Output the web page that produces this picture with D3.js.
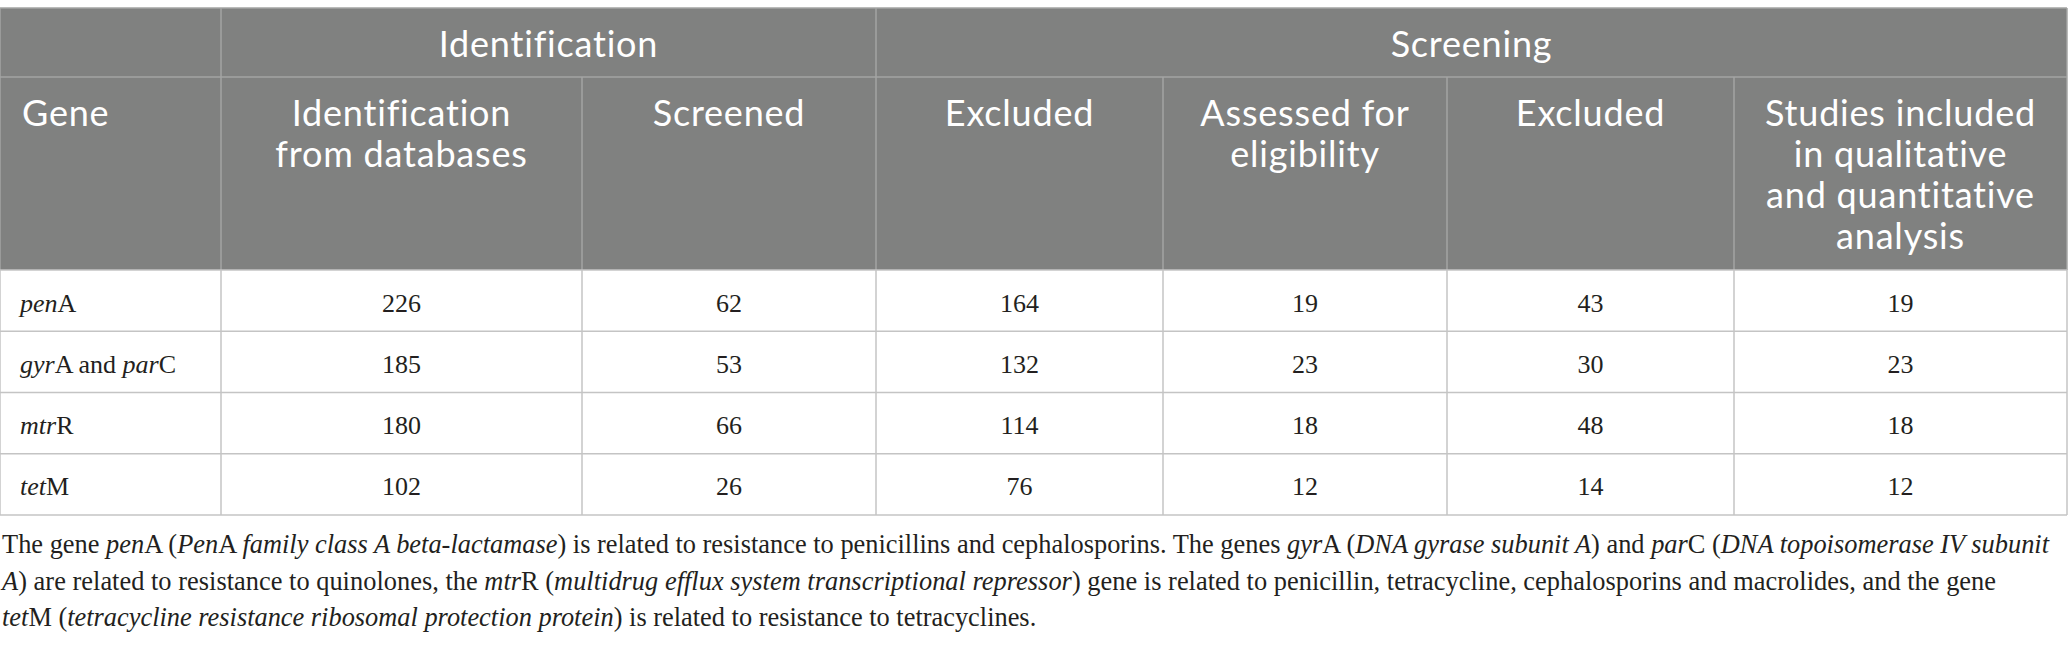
<!DOCTYPE html>
<html>
<head>
<meta charset="utf-8">
<script src="https://cdn.jsdelivr.net/npm/d3@7"></script>
<style>
  body { margin: 0; background: #fff; }
  .head { font-family: "Lato", sans-serif; fill: #fff; letter-spacing: 0.8px; }
  .cell { font-family: "Liberation Serif", serif; fill: #231f20; }
  .note { font-family: "Liberation Serif", serif; fill: #231f20; }
</style>
</head>
<body>
<div id="TableChart"></div>
<script>
// table values
const genes = [
  [["pen", true], ["A", false]],
  [["gyr", true], ["A and ", false], ["par", true], ["C", false]],
  [["mtr", true], ["R", false]],
  [["tet", true], ["M", false]]
];
const identifiedDb = [226, 185, 180, 102];
const screened = [62, 53, 66, 26];
const excluded1 = [164, 132, 114, 76];
const assessed = [19, 23, 18, 12];
const excluded2 = [43, 30, 48, 14];
const included = [19, 23, 18, 12];

const groupLabels = ["Identification", "Screening"];
const groupSpans = [[1, 3], [3, 7]]; // column index range per group
const columnLabels = [
  ["Gene"],
  ["Identification", "from databases"],
  ["Screened"],
  ["Excluded"],
  ["Assessed for", "eligibility"],
  ["Excluded"],
  ["Studies included", "in qualitative", "and quantitative", "analysis"]
];
const noteLines = [
  [["The gene ", false], ["pen", true], ["A (", false], ["Pen", true], ["A ", false], ["family class A beta-lactamase", true], [") is related to resistance to penicillins and cephalosporins. The genes ", false], ["gyr", true], ["A (", false], ["DNA gyrase subunit A", true], [") and ", false], ["par", true], ["C (", false], ["DNA topoisomerase IV subunit", true]],
  [["A", true], [") are related to resistance to quinolones, the ", false], ["mtr", true], ["R (", false], ["multidrug efflux system transcriptional repressor", true], [") gene is related to penicillin, tetracycline, cephalosporins and macrolides, and the gene", false]],
  [["tet", true], ["M (", false], ["tetracycline resistance ribosomal protection protein", true], [") is related to resistance to tetracyclines.", false]]
];

const width = 2068, height = 647;
const colEdges = [0, 221, 582, 876, 1163, 1447, 1734, 2067];
const tableTop = 8, head1 = 77, head2 = 270, tableBottom = 515;

const seriesCols = [identifiedDb, screened, excluded1, assessed, excluded2, included];

const svg = d3.select("#TableChart")
  .append("svg")
  .attr("width", width)
  .attr("height", height);

// x positions per column
const xLeft = d3.scaleOrdinal().domain(d3.range(7)).range(colEdges.slice(0, 7));
const xRight = d3.scaleOrdinal().domain(d3.range(7)).range(colEdges.slice(1));
const xMid = i => (xLeft(i) + xRight(i)) / 2;

// rows
const yRow = d3.scaleBand()
  .domain(d3.range(genes.length))
  .range([head2, tableBottom])
  .padding(0);

// header background
svg.append("rect")
  .attr("x", colEdges[0]).attr("y", tableTop)
  .attr("width", colEdges[7] - colEdges[0]).attr("height", head2 - tableTop)
  .style("fill", "#808180");

// header lines
const headLine = "#a3a4a3";
svg.append("line")
  .attr("x1", 0).attr("x2", colEdges[7]).attr("y1", tableTop).attr("y2", tableTop)
  .style("stroke", headLine).style("stroke-width", 1.5);
svg.append("line")
  .attr("x1", 0).attr("x2", colEdges[7]).attr("y1", head1).attr("y2", head1)
  .style("stroke", headLine).style("stroke-width", 1.5);
svg.selectAll(".vHead")
  .data(d3.range(8))
  .join("line")
    .attr("x1", i => colEdges[i]).attr("x2", i => colEdges[i])
    .attr("y1", i => (i === 0 || i === 1 || i === 3 || i === 7) ? tableTop : head1)
    .attr("y2", head2)
    .style("stroke", headLine).style("stroke-width", 1.5);

// body lines
const bodyLine = "#c4c4c4";
svg.selectAll(".hBody")
  .data(d3.range(genes.length + 1))
  .join("line")
    .attr("x1", 0).attr("x2", colEdges[7])
    .attr("y1", i => i < genes.length ? yRow(i) : tableBottom)
    .attr("y2", i => i < genes.length ? yRow(i) : tableBottom)
    .style("stroke", bodyLine).style("stroke-width", 1.5);
svg.selectAll(".vBody")
  .data(colEdges)
  .join("line")
    .attr("x1", d => d).attr("x2", d => d)
    .attr("y1", head2).attr("y2", tableBottom)
    .style("stroke", bodyLine).style("stroke-width", 1.5);

// group headings
svg.selectAll(".group")
  .data(groupLabels)
  .join("text")
    .attr("class", "head")
    .attr("x", (d, i) => (colEdges[groupSpans[i][0]] + colEdges[groupSpans[i][1]]) / 2)
    .attr("y", 57)
    .attr("text-anchor", "middle")
    .style("font-size", "36px")
    .text(d => d);

// column headings
columnLabels.forEach((lines, c) => {
  const t = svg.append("text")
    .attr("class", "head")
    .attr("text-anchor", c === 0 ? "start" : "middle")
    .style("font-size", "36px");
  lines.forEach((ln, k) => {
    t.append("tspan")
      .attr("x", c === 0 ? 22 : xMid(c))
      .attr("y", 126 + k * 41)
      .text(ln);
  });
});

// gene names
genes.forEach((parts, r) => {
  const t = svg.append("text")
    .attr("class", "cell")
    .attr("x", 20)
    .attr("y", yRow(r) + yRow.bandwidth() / 2 + 11)
    .style("font-size", "26px");
  parts.forEach(p => {
    t.append("tspan").style("font-style", p[1] ? "italic" : "normal").text(p[0]);
  });
});

// values
seriesCols.forEach((vals, c) => {
  svg.selectAll(".v" + c)
    .data(vals)
    .join("text")
      .attr("class", "cell")
      .attr("x", xMid(c + 1))
      .attr("y", (d, r) => yRow(r) + yRow.bandwidth() / 2 + 11)
      .attr("text-anchor", "middle")
      .style("font-size", "26px")
      .text(d => d);
});

// footnote: size font so the first line spans the table width
const noteTargets = [2047, 1994, null];
const notes = noteLines.map((parts, k) => {
  const t = svg.append("text")
    .attr("class", "note")
    .attr("x", 2)
    .attr("y", 553 + k * 36.5)
    .style("font-size", "22px");
  parts.forEach(p => {
    t.append("tspan").style("font-style", p[1] ? "italic" : "normal").text(p[0]);
  });
  return t;
});
const natural = notes[0].node().getComputedTextLength();
const noteSize = Math.min(27, 22 * noteTargets[0] / natural);
notes.forEach((t, k) => {
  t.style("font-size", noteSize + "px");
  if (noteTargets[k]) t.attr("textLength", noteTargets[k]).attr("lengthAdjust", "spacing");
});
</script>
</body>
</html>
